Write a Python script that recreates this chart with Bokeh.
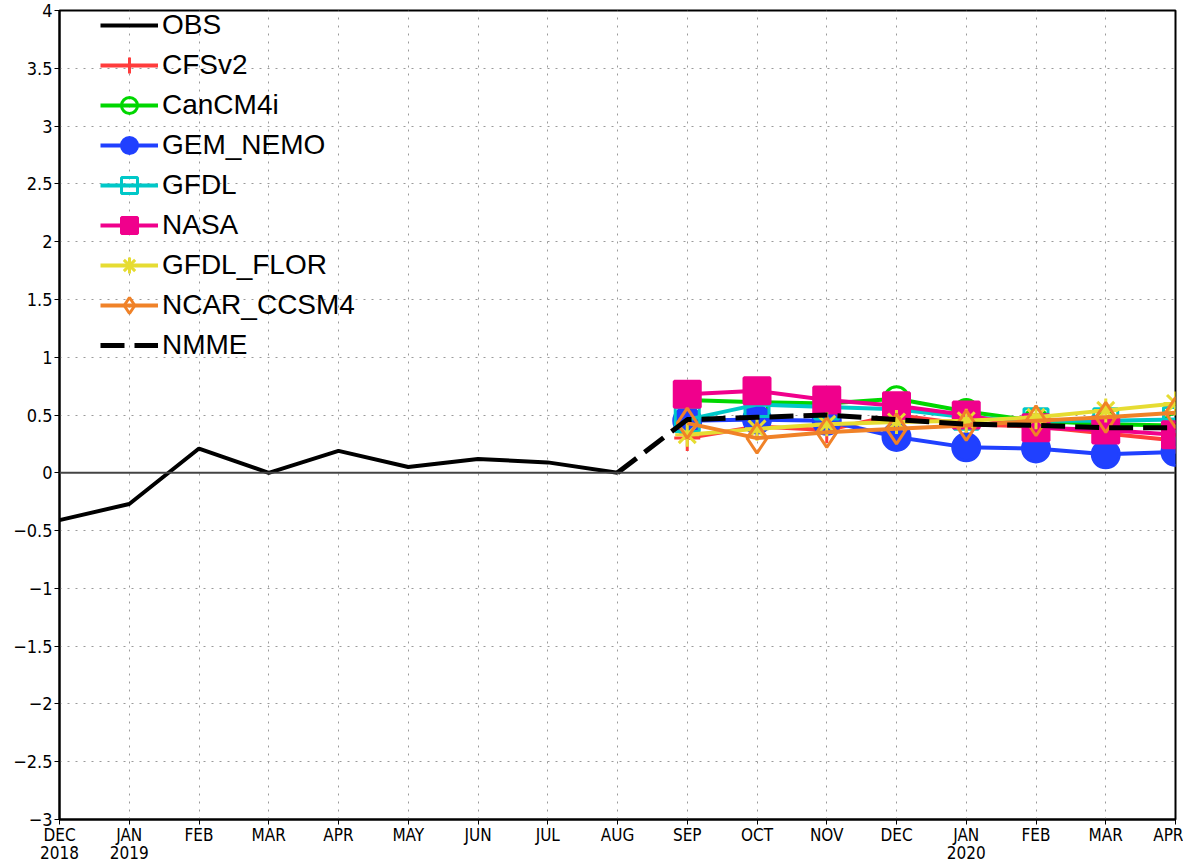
from bokeh.plotting import figure
from bokeh.models import FixedTicker, Range1d, Legend, LegendItem, Span
from bokeh.embed import file_html
from bokeh.resources import INLINE

# ---------------- data ----------------
month_labels = ["DEC\n2018", "JAN\n2019", "FEB", "MAR", "APR", "MAY", "JUN", "JUL",
                "AUG", "SEP", "OCT", "NOV", "DEC", "JAN\n2020", "FEB", "MAR", "APR"]
month_idx = list(range(len(month_labels)))

obs_x = [0, 1, 2, 3, 4, 5, 6, 7, 8]
obs_y = [-0.41, -0.27, 0.21, 0.0, 0.19, 0.05, 0.12, 0.09, 0.0]

fc_x = [9, 10, 11, 12, 13, 14, 15, 16]
cfsv2 = [0.30, 0.40, 0.37, 0.50, 0.42, 0.40, 0.34, 0.28]
cancm4i = [0.63, 0.61, 0.60, 0.64, 0.53, 0.45, 0.42, 0.41]
gem_nemo = [0.45, 0.46, 0.45, 0.31, 0.22, 0.21, 0.16, 0.18]
gfdl = [0.46, 0.59, 0.57, 0.55, 0.48, 0.45, 0.45, 0.46]
nasa = [0.68, 0.71, 0.63, 0.58, 0.50, 0.39, 0.37, 0.33]
gfdl_flor = [0.33, 0.38, 0.42, 0.44, 0.45, 0.48, 0.54, 0.60]
ncar_ccsm4 = [0.43, 0.30, 0.35, 0.38, 0.41, 0.45, 0.48, 0.52]

nmme_x = [8, 9, 10, 11, 12, 13, 14, 15, 16]
nmme = [0.0, 0.46, 0.48, 0.50, 0.46, 0.42, 0.41, 0.39, 0.39]

y_ticks = [-3, -2.5, -2, -1.5, -1, -0.5, 0, 0.5, 1, 1.5, 2, 2.5, 3, 3.5, 4]
y_tick_labels = ["\u22123", "\u22122.5", "\u22122", "\u22121.5", "\u22121", "\u22120.5", "0",
                 "0.5", "1", "1.5", "2", "2.5", "3", "3.5", "4"]

# ---------------- figure ----------------
TICK_FONT = "Liberation Sans Narrow, DejaVu Sans Condensed, sans-serif"

p = figure(frame_width=1116, frame_height=809, output_backend="svg", toolbar_location=None,
           x_range=Range1d(0, 16), y_range=Range1d(-3, 4),
           min_border_left=59, min_border_right=8, min_border_top=10, min_border_bottom=0)
p.background_fill_color = "white"
p.border_fill_color = "white"
p.outline_line_color = "black"
p.outline_line_width = 2

p.xaxis.ticker = FixedTicker(ticks=month_idx)
p.xaxis.major_label_overrides = {i: s for i, s in zip(month_idx, month_labels)}
p.yaxis.ticker = FixedTicker(ticks=y_ticks)
p.yaxis.major_label_overrides = {t: s for t, s in zip(y_ticks, y_tick_labels)}

for ax in (p.xaxis, p.yaxis):
    ax.axis_line_color = "black"
    ax.axis_line_width = 2
    ax.major_tick_line_color = "black"
    ax.major_tick_line_width = 1
    ax.major_tick_in = 0
    ax.major_tick_out = 5
    ax.minor_tick_line_color = None
    ax.major_label_text_font = TICK_FONT
    ax.major_label_text_color = "black"
p.xaxis.major_label_text_font_size = "17px"
p.xaxis.major_label_standoff = 0
p.xaxis.major_label_text_line_height = 0.9
p.yaxis.major_label_text_font_size = "18px"
p.yaxis.major_label_standoff = 2

p.xgrid.ticker = FixedTicker(ticks=month_idx)
p.ygrid.ticker = FixedTicker(ticks=y_ticks)
for g in (p.xgrid, p.ygrid):
    g.grid_line_color = "#9a9a9a"
    g.grid_line_dash = "2 6"
    g.grid_line_width = 1

p.add_layout(Span(location=0, dimension="width", line_color="#444444", line_width=2))

# ---------------- series ----------------
items = []

r = p.line(obs_x, obs_y, line_color="black", line_width=4)
items.append(LegendItem(label="OBS", renderers=[r]))

series = [
    ("CFSv2", cfsv2, "#ff3c3c", "cross", 26, True),
    ("CanCM4i", cancm4i, "#00d700", "circle", 24, False),
    ("GEM_NEMO", gem_nemo, "#2040ff", "circle", 27, True),
    ("GFDL", gfdl, "#00c8c8", "square", 24, False),
    ("NASA", nasa, "#f0008c", "square", 26, True),
    ("GFDL_FLOR", gfdl_flor, "#e6dc32", "asterisk", 24, False),
    ("NCAR_CCSM4", ncar_ccsm4, "#f08228", "diamond", 30, False),
]
for name, vals, col, mk, sz, filled in series:
    rl = p.line(fc_x, vals, line_color=col, line_width=4)
    if filled:
        rs = p.scatter(fc_x, vals, marker=mk, size=sz, line_color=col, fill_color=col,
                       line_width=3)
    else:
        rs = p.scatter(fc_x, vals, marker=mk, size=sz, line_color=col, fill_color=None,
                       line_width=3)
    items.append(LegendItem(label=name, renderers=[rl, rs]))

rn = p.line(nmme_x, nmme, line_color="black", line_width=5, line_dash="24 10")
items.append(LegendItem(label="NMME", renderers=[rn]))

legend = Legend(items=items, location=(41, 454))
legend.background_fill_alpha = 0
legend.border_line_color = None
legend.padding = 0
legend.margin = 0
legend.glyph_width = 58
legend.glyph_height = 40
legend.label_height = 40
legend.spacing = 0
legend.label_standoff = 4
legend.label_text_font = "Liberation Sans, Arial, sans-serif"
legend.label_text_font_size = "28px"
legend.label_text_line_height = 1.0
legend.label_text_color = "black"
p.add_layout(legend)

open("out.html", "w").write(file_html(p, INLINE))
